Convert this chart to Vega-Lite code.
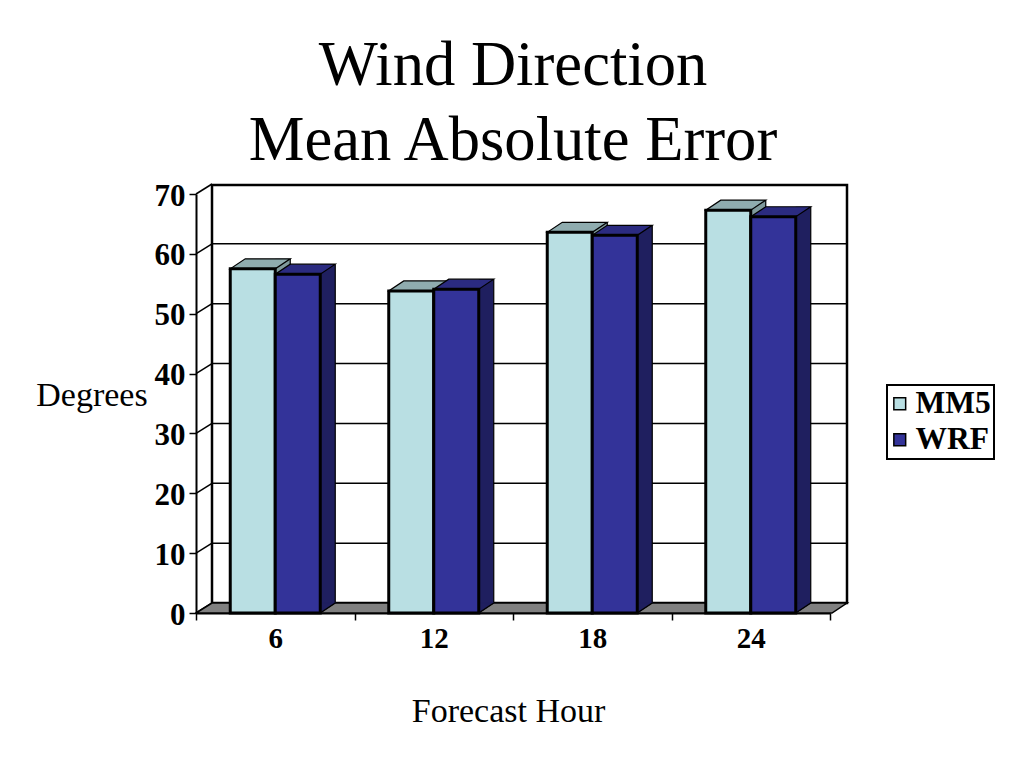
{
"$schema":"https://vega.github.io/schema/vega-lite/v6.json",
"width":634,"height":419,
"autosize":"none",
"padding":{"left":196,"top":194,"right":194,"bottom":155},
"background":"white",
"config":{"view":{"stroke":null},"font":"Liberation Serif"},
"title":{"text":["Wind Direction","Mean Absolute Error"],"font":"Liberation Serif","fontSize":62.6,"fontWeight":"normal","color":"black","lineHeight":75,"anchor":"middle","frame":"group","offset":6,"dx":0},
"data":{"values":[
{"hour":6,"series":"MM5","value":57.5},
{"hour":6,"series":"WRF","value":56.6},
{"hour":12,"series":"MM5","value":53.8},
{"hour":12,"series":"WRF","value":54.1},
{"hour":18,"series":"MM5","value":63.6},
{"hour":18,"series":"WRF","value":63.1},
{"hour":24,"series":"MM5","value":67.3},
{"hour":24,"series":"WRF","value":66.2}
]},
"resolve":{"scale":{"fill":"independent"}},
"layer":[
{"data":{"values":[{"base":0}]},
 "mark":{"type":"point","shape":"M16 -10 L651 -10 L651 -428 L16 -428 Z","size":4,"filled":true,"fill":"white","stroke":"black","strokeWidth":2.5,"opacity":1},
 "encoding":{"x":{"value":0},"y":{"field":"base","type":"quantitative","scale":{"domain":[0,70],"nice":false},
   "axis":{"values":[0,10,20,30,40,50,60,70],"grid":false,"title":"Degrees","titleAngle":0,"titleX":-104.5,"titleY":211,"titleAlign":"center","titleBaseline":"alphabetic","titleFont":"Liberation Serif","titleFontSize":34,"titleFontWeight":"normal","titleColor":"black","labelFont":"Liberation Serif","labelFontSize":31,"labelFontWeight":"bold","labelColor":"black","labelPadding":4,"labelOffset":2,"tickColor":"black","tickSize":7,"tickWidth":1.5,"domainColor":"black","domainWidth":2}}}},
{"data":{"values":[{"tick":10},{"tick":20},{"tick":30},{"tick":40},{"tick":50},{"tick":60}]},
 "mark":{"type":"point","shape":"M16 -10 L651 -10","size":4,"filled":false,"stroke":"black","strokeWidth":1.5,"opacity":1},
 "encoding":{"y":{"field":"tick","type":"quantitative"},"x":{"value":0}}},
{"data":{"values":[{"tick":0},{"tick":10},{"tick":20},{"tick":30},{"tick":40},{"tick":50},{"tick":60},{"tick":70}]},
 "mark":{"type":"point","shape":"M0 0 L16 -10","size":4,"filled":false,"stroke":"black","strokeWidth":1.5,"opacity":1},
 "encoding":{"y":{"field":"tick","type":"quantitative"},"x":{"value":0}}},
{"data":{"values":[{"floor":0}]},
 "mark":{"type":"point","shape":"M0 0 L636 0 L651 -10 L16 -10 Z","size":4,"filled":true,"fill":"#808080","stroke":"black","strokeWidth":1.5,"opacity":1},
 "encoding":{"y":{"field":"floor","type":"quantitative"},"x":{"value":0}}},
{"transform":[{"filter":"datum.series == 'MM5'"}],
 "mark":{"type":"rule","stroke":"#7F9A9C","strokeWidth":15,"xOffset":7.5,"yOffset":-10,"y2Offset":-10},
 "encoding":{
  "x":{"field":"hour","type":"ordinal","scale":{"type":"band","padding":0},
    "axis":{"title":"Forecast Hour","labelAngle":0,"tickBand":"extent","titleX":312,"titleY":108,"titleBaseline":"alphabetic","titleFont":"Liberation Serif","titleFontSize":34,"titleFontWeight":"normal","titleColor":"black","labelFont":"Liberation Serif","labelFontSize":29,"labelFontWeight":"bold","labelColor":"black","labelPadding":4,"tickColor":"black","tickSize":7,"tickWidth":1.5,"domainColor":"black","domainWidth":2}},
  "y":{"field":"value","type":"quantitative"},
  "y2":{"datum":0}}},
{"transform":[{"filter":"datum.series == 'MM5'"}],
 "mark":{"type":"rule","stroke":"black","strokeWidth":1.2,"xOffset":15,"yOffset":-10,"y2Offset":-10},
 "encoding":{"x":{"field":"hour","type":"ordinal"},"y":{"field":"value","type":"quantitative"},"y2":{"datum":0}}},
{"transform":[{"filter":"datum.series == 'WRF'"}],
 "mark":{"type":"rule","stroke":"#1F1F5F","strokeWidth":15,"xOffset":52.5,"yOffset":-10,"y2Offset":-10},
 "encoding":{"x":{"field":"hour","type":"ordinal"},"y":{"field":"value","type":"quantitative"},"y2":{"datum":0}}},
{"transform":[{"filter":"datum.series == 'WRF'"}],
 "mark":{"type":"rule","stroke":"black","strokeWidth":1.2,"xOffset":60,"yOffset":-10,"y2Offset":-10},
 "encoding":{"x":{"field":"hour","type":"ordinal"},"y":{"field":"value","type":"quantitative"},"y2":{"datum":0}}},
{"mark":{"type":"point","shape":"M22.5 0 L37.5 -10 L22.5 -10 Z","size":4,"filled":true,"strokeWidth":1,"opacity":1},
 "encoding":{
  "x":{"field":"hour","type":"ordinal"},
  "xOffset":{"field":"series","type":"nominal","scale":{"paddingInner":0,"paddingOuter":0.761}},
  "y":{"datum":0,"type":"quantitative"},
  "fill":{"field":"series","type":"nominal","scale":{"range":["#7F9A9C","#1F1F5F"]},"legend":null},
  "stroke":{"field":"series","type":"nominal","scale":{"range":["#7F9A9C","#1F1F5F"]},"legend":null}}},
{"mark":{"type":"point","shape":"M22.5 0 L37.5 -10","size":4,"filled":false,"stroke":"black","strokeWidth":1.5,"opacity":1},
 "encoding":{
  "x":{"field":"hour","type":"ordinal"},
  "xOffset":{"field":"series","type":"nominal"},
  "y":{"datum":0,"type":"quantitative"}}},
{"mark":{"type":"point","shape":"M-22.5 0 L22.5 0 L37.5 -10 L-7.5 -10 Z","size":4,"filled":true,"stroke":"black","strokeWidth":1.2,"opacity":1},
 "encoding":{
  "x":{"field":"hour","type":"ordinal"},
  "xOffset":{"field":"series","type":"nominal"},
  "y":{"field":"value","type":"quantitative"},
  "fill":{"field":"series","type":"nominal","scale":{"range":["#8FACAF","#2B2B80"]},"legend":null}}},
{"mark":{"type":"bar","stroke":"black","strokeWidth":3},
 "encoding":{
  "x":{"field":"hour","type":"ordinal"},
  "xOffset":{"field":"series","type":"nominal"},
  "y":{"field":"value","type":"quantitative"},
  "fill":{"field":"series","type":"nominal","scale":{"range":["#B9DFE3","#333399"]},
    "legend":{"title":null,"orient":"none","legendX":691,"legendY":191,"fillColor":"white","strokeColor":"black","padding":3,"symbolType":"square","symbolSize":140,"symbolOffset":-6,"symbolStrokeColor":"black","symbolStrokeWidth":1.5,"symbolOpacity":1,"labelFont":"Liberation Serif","labelFontSize":31.5,"labelFontWeight":"bold","labelColor":"black","labelOffset":0,"rowPadding":3,"encode":{"legend":{"update":{"strokeWidth":{"value":2}}}}}}}}
]
}
